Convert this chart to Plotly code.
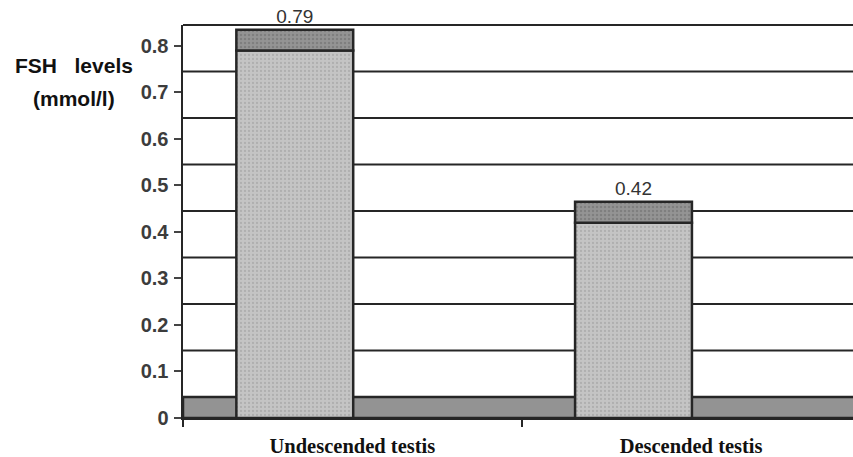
import plotly.graph_objects as go

categories = ["Undescended testis", "Descended testis"]
values = [0.79, 0.42]
value_labels = ["0.79", "0.42"]
y_ticks = [0, 0.1, 0.2, 0.3, 0.4, 0.5, 0.6, 0.7, 0.8]
y_ticklabels = ["0", "0.1", "0.2", "0.3", "0.4", "0.5", "0.6", "0.7", "0.8"]
y_title = ["FSH\u00a0\u00a0 levels", "(mmol/l)"]

DEPTH = 0.045      # pseudo-3D depth (in y units)
XSHIFT = -0.17     # front face shifted left of the category centre
BARW = 0.345
EDGE = "#262626"

xpos = [i + XSHIFT for i in range(len(categories))]

fig = go.Figure()

# front faces
fig.add_trace(go.Bar(
    x=xpos, y=values, width=BARW,
    marker=dict(color="#c2c2c2",
                line=dict(color=EDGE, width=2.5),
                pattern=dict(shape=".", fgcolor="#9a9a9a", bgcolor="#c4c4c4",
                             size=4, solidity=0.25)),
    hoverinfo="skip", showlegend=False,
))
# top slabs
fig.add_trace(go.Bar(
    x=xpos, y=[DEPTH] * len(values), base=values, width=BARW,
    marker=dict(color="#8e8e8e",
                line=dict(color=EDGE, width=2.5),
                pattern=dict(shape=".", fgcolor="#6a6a6a", bgcolor="#949494",
                             size=4, solidity=0.3)),
    text=value_labels, textposition="outside", cliponaxis=False,
    constraintext="none",
    outsidetextfont=dict(family="Arial, Liberation Sans, sans-serif", size=19, color="#333333"),
    hoverinfo="skip", showlegend=False,
))

shapes = []
# floor slab
shapes.append(dict(type="rect", xref="paper", yref="y", x0=0, x1=1.02, y0=0, y1=DEPTH,
                   fillcolor="#939393", line=dict(color=EDGE, width=2.5), layer="below"))
# back-wall gridlines
for v in y_ticks[1:-1]:
    shapes.append(dict(type="line", xref="paper", yref="y", x0=0, x1=1, y0=v + DEPTH, y1=v + DEPTH,
                       line=dict(color=EDGE, width=2), layer="below"))
# top border
shapes.append(dict(type="line", xref="paper", yref="paper", x0=0, x1=1, y0=1, y1=1,
                   line=dict(color=EDGE, width=2), layer="below"))

title_font = dict(family="Arial, Liberation Sans, sans-serif", size=21, color="#111111", weight="bold")

fig.update_layout(
    width=853, height=457,
    margin=dict(l=183, r=0, t=25, b=39),
    paper_bgcolor="white", plot_bgcolor="white",
    barmode="overlay", bargap=0,
    shapes=shapes,
    hovermode=False,
    xaxis=dict(range=[-0.5, 1.478], tickvals=[0, 1], ticktext=categories,
               ticks="", showgrid=False, zeroline=False,
               showline=True, linecolor=EDGE, linewidth=2,
               ticklabelstandoff=8,
               tickfont=dict(family="Liberation Serif, Times New Roman, serif", size=20.5, color="#111111", weight="bold"),
               minor=dict(tickvals=[-0.5, 0.5, 1.5], ticks="outside", ticklen=7, tickcolor=EDGE, tickwidth=2),
               fixedrange=True),
    yaxis=dict(range=[0, 0.845], tickvals=y_ticks, ticktext=y_ticklabels,
               ticks="outside", ticklen=7, tickcolor="#444444", tickwidth=2,
               ticklabelstandoff=1,
               showgrid=False, zeroline=False,
               showline=True, linecolor=EDGE, linewidth=2.5,
               tickfont=dict(family="Arial, Liberation Sans, sans-serif", size=20, color="#3c3c3c", weight="bold"),
               fixedrange=True),
    annotations=[
        dict(text=y_title[0], xref="paper", yref="paper", x=-0.1627, y=0.8957,
             xanchor="center", yanchor="middle", showarrow=False, font=title_font),
        dict(text=y_title[1], xref="paper", yref="paper", x=-0.1627, y=0.814,
             xanchor="center", yanchor="middle", showarrow=False, font=title_font),
    ],
)

fig.write_html("out.html",
               config={"displayModeBar": False, "staticPlot": True},
               post_script="document.body.style.margin='0';document.body.style.overflow='hidden';")
